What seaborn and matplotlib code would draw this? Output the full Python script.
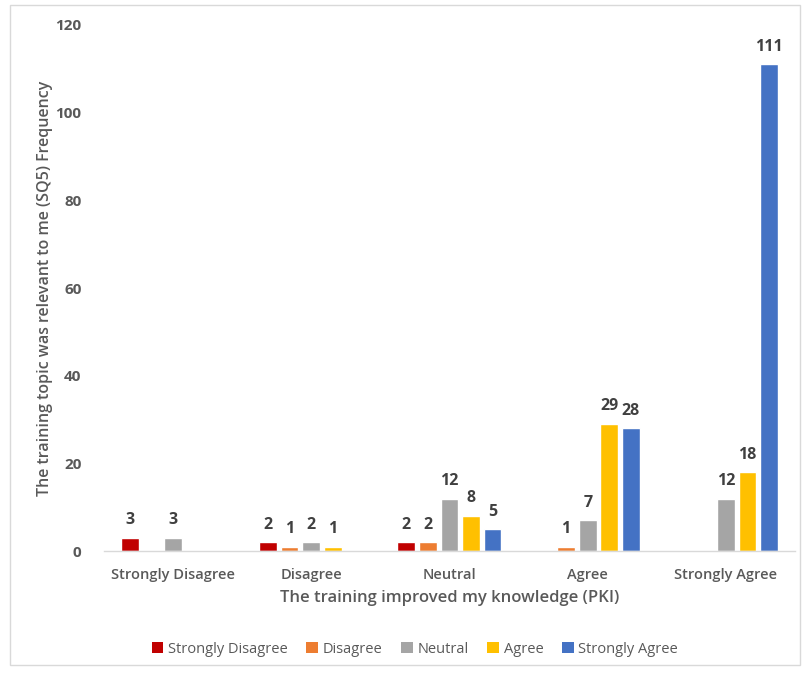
import matplotlib
matplotlib.use("Agg")
import matplotlib.pyplot as plt
import seaborn as sns
import pandas as pd
from matplotlib.patches import Rectangle, Patch

categories = ["Strongly Disagree", "Disagree", "Neutral", "Agree", "Strongly Agree"]
series_names = ["Strongly Disagree", "Disagree", "Neutral", "Agree", "Strongly Agree"]
sd_vals = [3, 2, 2, 0, 0]
d_vals = [0, 1, 2, 1, 0]
n_vals = [3, 2, 12, 7, 12]
a_vals = [0, 1, 8, 29, 18]
sa_vals = [0, 0, 5, 28, 111]
colors = ["#C00000", "#ED7D31", "#A5A5A5", "#FFC000", "#4472C4"]

series_vals = [sd_vals, d_vals, n_vals, a_vals, sa_vals]
rows = []
for s, vals in zip(series_names, series_vals):
    for c, v in zip(categories, vals):
        rows.append({"PKI": c, "SQ5": s, "Frequency": v})
df = pd.DataFrame(rows)

sns.set_theme(style="white")
plt.rcParams["font.family"] = ["Open Sans", "DejaVu Sans"]

fig = plt.figure(figsize=(8.04, 6.73), dpi=100)
ax = fig.add_axes([0.129, 0.181, 0.860, 0.782])

sns.barplot(data=df, x="PKI", y="Frequency", hue="SQ5", order=categories,
            hue_order=series_names, palette=colors, width=0.78, gap=0.18,
            saturation=1, errorbar=None, legend=False, ax=ax)

for container in ax.containers:
    labels = [f"{int(b.get_height())}" if b.get_height() > 0 else "" for b in container]
    ax.bar_label(container, labels=labels, padding=7, fontsize=11.5,
                 fontweight="bold", color="#404040")

ax.set_ylim(0, 120)
ax.set_xlim(-0.5, 4.5)
ax.set_yticks(range(0, 121, 20))
ax.tick_params(axis="y", length=0, labelsize=11, labelcolor="#595959", pad=16)
ax.tick_params(axis="x", length=0, labelsize=10.5, labelcolor="#595959", pad=12)
for t in ax.get_yticklabels():
    t.set_fontweight("bold")
for t in ax.get_xticklabels():
    t.set_fontweight("semibold")

for sp in ["top", "right", "left"]:
    ax.spines[sp].set_visible(False)
ax.spines["bottom"].set_color("#D9D9D9")
ax.spines["bottom"].set_linewidth(1.0)

ax.set_xlabel("The training improved my knowledge (PKI)", fontsize=12,
              color="#595959", fontweight="semibold", labelpad=6)
ax.set_ylabel("The training topic was relevant to me (SQ5) Frequency", fontsize=11.5,
              color="#595959", fontweight="semibold")
ax.yaxis.set_label_coords(-0.074, 0.5)

handles = [Patch(facecolor=c, edgecolor="none") for c in colors]
fig.legend(handles, series_names, loc="center", bbox_to_anchor=(0.516, 0.035),
           ncol=5, frameon=False, fontsize=10.5, handlelength=0.8, handleheight=0.8,
           handletextpad=0.3, columnspacing=1.3, labelcolor="#595959")

fig.patches.append(Rectangle((10 / 804, 1 - 665 / 673), 790 / 804, 660 / 673,
                             transform=fig.transFigure, fill=False,
                             edgecolor="#D9D9D9", linewidth=1.0))

fig.savefig("out.png", dpi=100)
